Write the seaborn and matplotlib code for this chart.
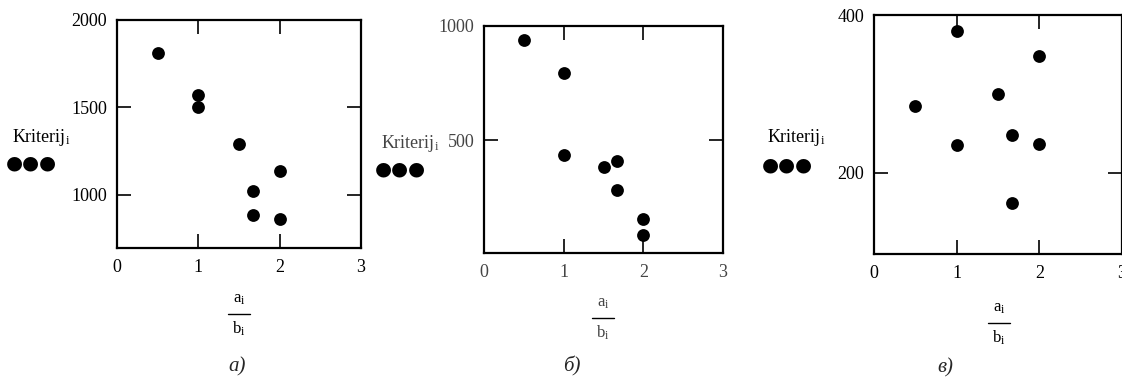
import matplotlib
matplotlib.use("Agg")
import matplotlib.pyplot as plt
import seaborn as sns
from matplotlib.lines import Line2D

# data
ratio = [0.5, 1, 1, 1.5, 1.667, 1.667, 2, 2]
crit_a = [1810, 1570, 1505, 1290, 1020, 887, 1135, 864]
crit_b = [940, 795, 434, 383, 408, 284, 154, 86]
crit_c = [285, 380, 235, 300, 248, 162, 348, 237]
x_ticks = [0, 1, 2, 3]
y_ticks_a = [1000, 1500, 2000]
y_ticks_b = [500, 1000]
y_ticks_c = [200, 400]
captions = ["а)", "б)", "в)"]

sns.set_theme(style="white")
plt.rcParams["font.family"] = ["Liberation Serif", "DejaVu Sans"]
plt.rcParams["mathtext.fontset"] = "custom"
plt.rcParams["mathtext.rm"] = "Liberation Serif"
plt.rcParams["mathtext.it"] = "Liberation Serif:italic"

W, H = 1122, 378
fig = plt.figure(figsize=(W / 100, H / 100), dpi=100)


def px(x, y):
    return x / W, 1 - y / H


def panel(rect, yvals, ylim, yticks, tick_color, ylab_xy, dots_xy, frac_xy, cap_xy, cap):
    ax = fig.add_axes(rect)
    sns.scatterplot(x=ratio, y=yvals, ax=ax, color="black", s=85, linewidth=0)
    ax.set_xlim(0, 3)
    ax.set_ylim(*ylim)
    ax.set_xticks(x_ticks)
    ax.set_yticks(yticks)
    ax.set_xticklabels([str(t) for t in x_ticks])
    ax.set_yticklabels([str(t) for t in yticks])
    ax.tick_params(direction="in", length=10, width=1.2,
                   top=True, bottom=True, left=True, right=True,
                   labelsize=13, colors="black", labelcolor=tick_color)
    ax.tick_params(axis="x", pad=8)
    ax.tick_params(axis="y", pad=7)
    for s in ax.spines.values():
        s.set_linewidth(1.6)
        s.set_color("black")

    fx, fy = px(*ylab_xy)
    fig.text(fx, fy, "Kriterij$_{\\mathrm{i}}$", ha="center", va="center", fontsize=13,
             color=tick_color)
    dx, dy = px(*dots_xy)
    fig.text(dx, dy, "●●●", ha="center", va="center", fontsize=14,
             family=["DejaVu Sans"], color="black")

    cx, cy = frac_xy
    tx, ty = px(cx, cy - 15)
    fig.text(tx, ty, "a$_{\\mathrm{i}}$", ha="center", va="center", fontsize=12, color=tick_color)
    bx, by = px(cx, cy + 15)
    fig.text(bx, by, "b$_{\\mathrm{i}}$", ha="center", va="center", fontsize=12, color=tick_color)
    x0, yl = px(cx - 11, cy)
    x1, _ = px(cx + 11, cy)
    fig.add_artist(Line2D([x0, x1], [yl, yl], color="black", lw=1.0,
                          transform=fig.transFigure))

    kx, ky = px(*cap_xy)
    fig.text(kx, ky, cap, ha="center", va="center", fontsize=15, style="italic")
    return ax


panel([117 / W, 1 - 248 / H, 244 / W, 228 / H], crit_a, (697, 2000), y_ticks_a, "black",
      (41, 138), (31, 163), (239, 314), (237, 367), captions[0])
panel([484 / W, 1 - 253 / H, 239 / W, 227 / H], crit_b, (6, 1000), y_ticks_b, "#444444",
      (410, 143), (400, 169), (603, 318), (572, 366), captions[1])
panel([874 / W, 1 - 254 / H, 248 / W, 239 / H], crit_c, (97, 400), y_ticks_c, "black",
      (796, 138), (787, 165), (999, 323), (945, 368), captions[2])

fig.savefig("out.png", dpi=100)
